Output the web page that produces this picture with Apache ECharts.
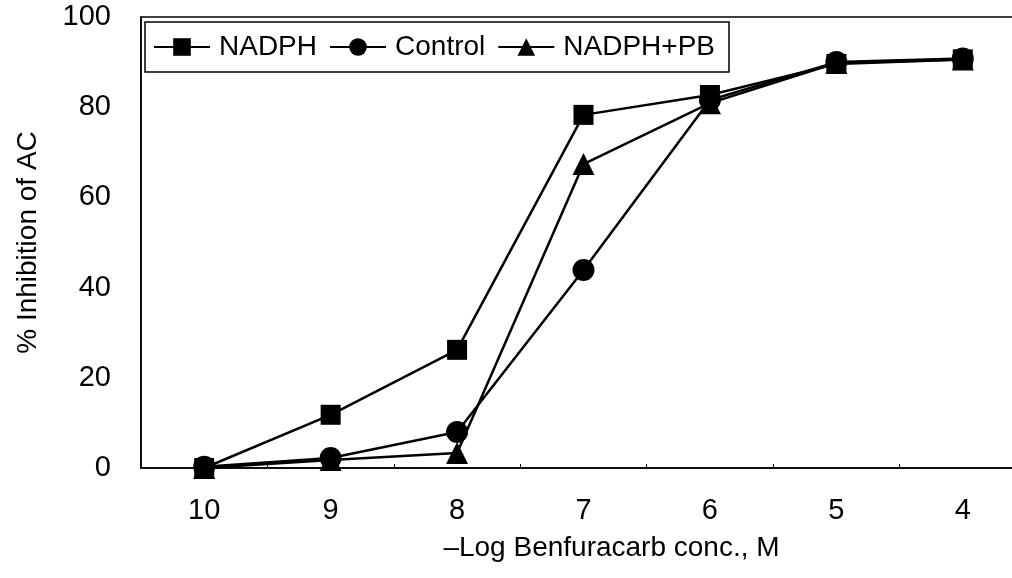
<!DOCTYPE html>
<html>
<head>
<meta charset="utf-8">
<script src="https://cdn.jsdelivr.net/npm/echarts@6/dist/echarts.min.js"></script>
<style>
  html, body { margin: 0; padding: 0; background: #fff; }
  #chart { width: 1012px; height: 578px; }
</style>
</head>
<body>
<div id="chart"></div>
<script>
// -log concentration categories
var logConc = ['10', '9', '8', '7', '6', '5', '4'];
// % inhibition values
var nadph     = [0, 11.8, 26.2, 78.3, 82.7, 89.6, 90.6];
var control   = [0.3, 2.2, 8.0, 43.9, 81.6, 90.0, 90.8];
var nadphPb   = [0, 1.8, 3.3, 67.4, 80.9, 89.8, 90.6];
var yTicks    = { min: 0, max: 100, step: 20 };

var font = 'Liberation Sans, Arial, Helvetica, sans-serif';
var myChart = echarts.init(document.getElementById('chart'));

function lineSeries(name, data, symbol, size) {
    return {
        name: name,
        type: 'line',
        data: data,
        symbol: symbol,
        symbolSize: size,
        lineStyle: { color: '#000', width: 2.5 },
        itemStyle: { color: '#000' },
        animation: false
    };
}

myChart.setOption({
    backgroundColor: '#fff',
    textStyle: { fontFamily: font, color: '#000' },
    grid: {
        left: 141, top: 17, width: 885, height: 451,
        outerBoundsMode: 'none',
        containLabel: false,
        show: true, borderColor: '#000', borderWidth: 1.5, backgroundColor: 'transparent'
    },
    legend: {
        left: 145, top: 22,
        orient: 'horizontal',
        borderColor: '#000', borderWidth: 1.5,
        padding: [11, 14, 11, 8],
        itemWidth: 56, itemHeight: 22, itemGap: 12,
        textStyle: { fontSize: 28, color: '#000', fontFamily: font, padding: [0, 0, 0, 4] },
        data: ['NADPH', 'Control', 'NADPH+PB']
    },
    xAxis: {
        type: 'category',
        data: logConc,
        boundaryGap: true,
        name: '\u2013Log Benfuracarb conc., M',
        nameLocation: 'middle',
        nameGap: 66,
        nameTextStyle: { fontSize: 28, color: '#000', padding: [0, 0, 0, 56] },
        axisLine: { lineStyle: { color: '#000', width: 1.5 } },
        axisTick: { show: true, inside: true, length: 4, lineStyle: { color: '#000' } },
        axisLabel: { fontSize: 29, color: '#000', margin: 28 },
        splitLine: { show: false }
    },
    yAxis: {
        type: 'value',
        min: yTicks.min, max: yTicks.max, interval: yTicks.step,
        name: '% Inhibition of AC',
        nameLocation: 'middle',
        nameGap: 99,
        nameTextStyle: { fontSize: 28, color: '#000' },
        axisLine: { show: true, lineStyle: { color: '#000', width: 1.5 } },
        axisTick: { show: false },
        axisLabel: { fontSize: 29, color: '#000', margin: 30 },
        splitLine: { show: false }
    },
    series: [
        lineSeries('NADPH', nadph, 'rect', 20),
        lineSeries('Control', control, 'circle', 22),
        lineSeries('NADPH+PB', nadphPb, 'triangle', 22)
    ]
});
</script>
</body>
</html>
